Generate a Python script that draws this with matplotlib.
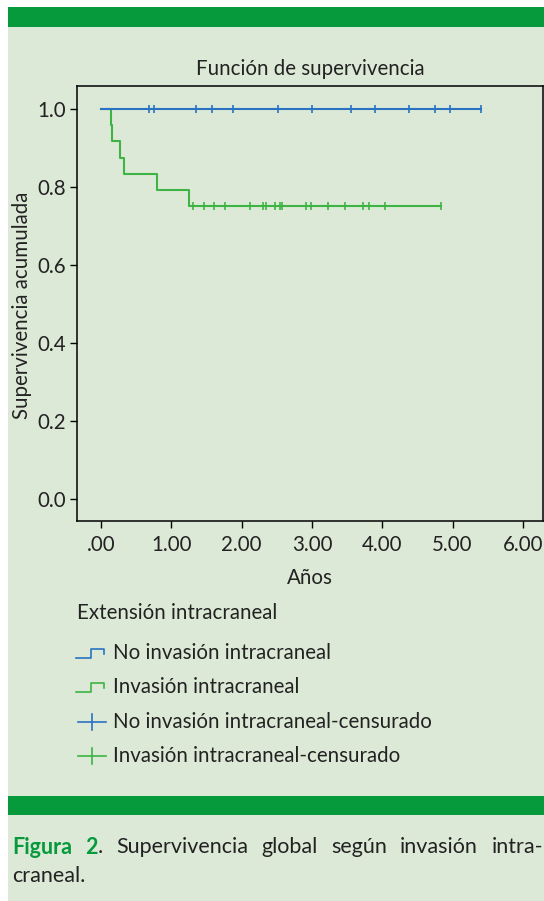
import matplotlib
matplotlib.use('Agg')
import matplotlib.pyplot as plt
from matplotlib.patches import Rectangle
from matplotlib.lines import Line2D

plt.rcParams['font.family'] = ['Lato', 'DejaVu Sans']

# data (years)
blue_censored = [0.68, 0.76, 1.35, 1.58, 1.88, 2.52, 3.00, 3.55, 3.90, 4.38, 4.75, 4.97, 5.40]
green_events = [0.14, 0.16, 0.27, 0.33, 0.79, 1.25]
green_surv = [0.958, 0.917, 0.875, 0.833, 0.792, 0.750]
green_censored = [1.31, 1.46, 1.61, 1.76, 2.12, 2.31, 2.34, 2.48, 2.54, 2.57, 2.92, 2.99,
                  3.23, 3.47, 3.73, 3.81, 4.04, 4.84]
x_ticks = [0, 1, 2, 3, 4, 5, 6]
x_tick_labels = ['.00', '1.00', '2.00', '3.00', '4.00', '5.00', '6.00']
y_ticks = [0.0, 0.2, 0.4, 0.6, 0.8, 1.0]
y_tick_labels = ['0.0', '0.2', '0.4', '0.6', '0.8', '1.0']
legend_labels = ['No invasión intracraneal', 'Invasión intracraneal',
                 'No invasión intracraneal-censurado', 'Invasión intracraneal-censurado']

BLUE = '#2a73c2'
GREEN = '#3db443'
BAR = '#069a3c'
PANEL = '#dde9d7'
TXT = '#222222'
FS = 14.8
W, H = 544, 901

fig = plt.figure(figsize=(W / 100, H / 100), dpi=100)
fig.patch.set_facecolor('white')

# background layer in pixel coordinates
bg = fig.add_axes([0, 0, 1, 1], zorder=-1)
bg.set_xlim(0, W)
bg.set_ylim(H, 0)
bg.axis('off')
bg.add_patch(Rectangle((8, 7), W - 8, H - 7, color=PANEL, lw=0))
bg.add_patch(Rectangle((8, 7), W - 8, 20, color=BAR, lw=0))
bg.add_patch(Rectangle((8, 796), W - 8, 19, color=BAR, lw=0))

# main plot
ax = fig.add_axes([76.7 / W, 1 - 521 / H, (543.3 - 76.7) / W, (521 - 85.7) / H])
ax.set_facecolor('none')
ax.set_xlim(-0.346, 6.29)
ax.set_ylim(-0.0556, 1.059)

def surv_at(t, times, surv):
    s = 1.0
    for ti, si in zip(times, surv):
        if t >= ti:
            s = si
    return s

# blue group: no events
blue_end = blue_censored[-1]
ax.plot([0, blue_end], [1.0, 1.0], color=BLUE, lw=1.5, zorder=3)
ax.plot(blue_censored, [1.0] * len(blue_censored), ls='none', marker='|',
        ms=6, mew=1.2, color=BLUE, zorder=4)

# green group: step curve
gx = [0] + green_events + [green_censored[-1]]
gy = [1.0] + green_surv + [green_surv[-1]]
ax.step(gx, gy, where='post', color=GREEN, lw=1.5, zorder=2)
ax.plot(green_censored, [surv_at(t, green_events, green_surv) for t in green_censored],
        ls='none', marker='|', ms=6, mew=1.2, color=GREEN, zorder=4)

ax.set_xticks(x_ticks)
ax.set_xticklabels(x_tick_labels)
ax.set_yticks(y_ticks)
ax.set_yticklabels(y_tick_labels)
ax.tick_params(axis='both', direction='out', labelsize=FS, colors='black',
               labelcolor=TXT, width=1, length=5)
ax.tick_params(axis='x', pad=5)
ax.tick_params(axis='y', pad=3)
for sp in ax.spines.values():
    sp.set_linewidth(1.1)
    sp.set_color('black')

ax.set_title('Función de supervivencia', fontsize=FS, color=TXT, pad=8)
fig.text(310 / W, 1 - 578 / H, 'Años', ha='center', va='center', fontsize=FS, color=TXT)
fig.text(22 / W, 1 - 305 / H, 'Supervivencia acumulada', ha='center', va='center',
         rotation=90, fontsize=FS, color=TXT)

# legend drawn in pixel space
bg.text(77, 613, 'Extensión intracraneal', ha='left', va='center', fontsize=FS, color=TXT)
rows = [653, 687, 722, 756]
colors = [BLUE, GREEN, BLUE, GREEN]
for i, (lab, c, yc) in enumerate(zip(legend_labels, colors, rows)):
    if i < 2:
        bg.add_line(Line2D([75.7, 91, 91, 104.3, 104.3], [yc + 5, yc + 5, yc - 4, yc - 4, yc + 0.5],
                           color=c, lw=1.2))
    else:
        bg.add_line(Line2D([78.3, 106], [yc, yc], color=c, lw=1.2))
        bg.add_line(Line2D([91.7, 91.7], [yc - 8, yc + 8], color=c, lw=1.2))
    bg.text(113.3, yc, lab, ha='left', va='center', fontsize=FS, color=TXT)

# caption, first line justified
cap_fs = 15.5
line1 = [[('Figura', BAR, 'bold')], [('2', BAR, 'bold'), ('.', TXT, 'normal')],
         [('Supervivencia', TXT, 'normal')], [('global', TXT, 'normal')],
         [('según', TXT, 'normal')], [('invasión', TXT, 'normal')], [('intra-', TXT, 'normal')]]
renderer = fig.canvas.get_renderer()

def piece_width(s, w):
    t = bg.text(0, 0, s, fontsize=cap_fs, fontweight=w)
    bb = t.get_window_extent(renderer)
    t.remove()
    return bb.width

word_w = [[piece_width(s, w) for s, c, w in word] for word in line1]
total = sum(sum(ws) for ws in word_w)
left, right = 12, 543
gap = (right - left - total) / (len(line1) - 1)
x = left
y1 = 847
for word, ws in zip(line1, word_w):
    for (s, c, w), pw in zip(word, ws):
        bg.text(x, y1, s, ha='left', va='center', fontsize=cap_fs, fontweight=w, color=c)
        x += pw
    x += gap
bg.text(left, y1 + 29, 'craneal.', ha='left', va='center', fontsize=cap_fs, color=TXT)

fig.savefig('out.png', dpi=100)
